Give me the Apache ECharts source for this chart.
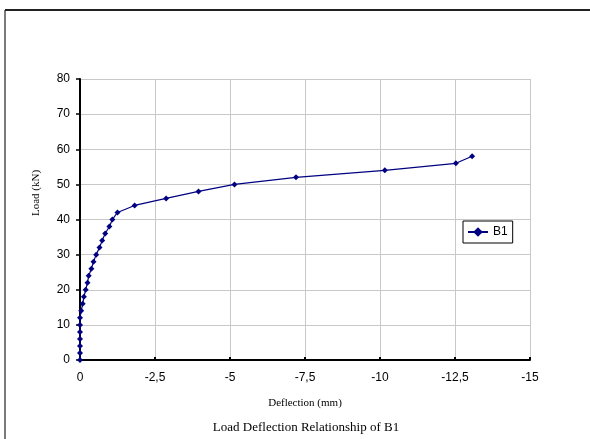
<!DOCTYPE html>
<html>
<head>
<meta charset="utf-8">
<script src="https://cdn.jsdelivr.net/npm/echarts@6/dist/echarts.min.js"></script>
<style>
html,body{margin:0;padding:0;background:#fff;}
#c{width:590px;height:439px;}
</style>
</head>
<body>
<div id="c"></div>
<script>
// Deflection (mm) and Load (kN) for beam B1
const deflection = [0, 0, 0, 0, 0, 0, 0, -0.04, -0.09, -0.13, -0.19, -0.25, -0.29, -0.38, -0.45, -0.54, -0.65, -0.74, -0.84, -0.98, -1.08, -1.25, -1.82, -2.87, -3.95, -5.15, -7.2, -10.16, -12.53, -13.07];
const load = [0, 2, 4, 6, 8, 10, 12, 14, 16, 18, 20, 22, 24, 26, 28, 30, 32, 34, 36, 38, 40, 42, 44, 46, 48, 50, 52, 54, 56, 58];
const seriesName = 'B1';
const xTitle = 'Deflection (mm)';
const yTitle = 'Load (kN)';
const chartTitle = 'Load Deflection Relationship of B1';

const chart = echarts.init(document.getElementById('c'), null, {renderer: 'canvas'});
const pts = deflection.map((d, i) => [d, load[i]]);
const sans = 'Arial, "Liberation Sans", sans-serif';
const serif = '"Times New Roman", "Liberation Serif", serif';

chart.setOption({
  animation: false,
  backgroundColor: '#fff',
  grid: {left: 80, top: 79, right: 60, bottom: 79, containLabel: false},
  legend: {
    data: [seriesName],
    left: 463, top: 221,
    orient: 'vertical',
    padding: [5, 5, 5, 4],
    itemWidth: 20, itemHeight: 12, itemGap: 0,
    borderColor: '#000', borderWidth: 1,
    backgroundColor: '#fff',
    textStyle: {fontFamily: sans, fontSize: 12, color: '#000'}
  },
  xAxis: {
    type: 'value',
    min: -15, max: 0, interval: 2.5,
    inverse: true,
    axisLine: {onZero: false, lineStyle: {color: '#000', width: 2}},
    axisTick: {show: true, inside: true, length: 3, lineStyle: {color: '#000', width: 2}},
    axisLabel: {
      margin: 12, fontFamily: sans, fontSize: 12, color: '#000',
      formatter: v => String(v).replace('.', ',')
    },
    splitLine: {show: true, lineStyle: {color: '#c8c8c8', width: 1}}
  },
  yAxis: {
    type: 'value',
    min: 0, max: 80, interval: 10,
    axisLine: {show: true, onZero: false, lineStyle: {color: '#000', width: 2}},
    axisTick: {show: true, inside: false, length: 4, lineStyle: {color: '#000', width: 1.5}},
    axisLabel: {margin: 10, fontFamily: sans, fontSize: 12, color: '#000'},
    splitLine: {show: true, lineStyle: {color: '#c8c8c8', width: 1}}
  },
  series: [{
    name: seriesName,
    type: 'line',
    data: pts,
    symbol: 'diamond',
    symbolSize: 6,
    showSymbol: true,
    lineStyle: {color: '#000080', width: 1.2},
    itemStyle: {color: '#000080'},
    z: 5
  }],
  graphic: [
    {type: 'line', shape: {x1: 5, y1: 10, x2: 595, y2: 10}, style: {stroke: '#222', lineWidth: 2}},
    {type: 'line', shape: {x1: 5, y1: 10, x2: 5, y2: 445}, style: {stroke: '#222', lineWidth: 1.2}},
    {type: 'text', x: 36, y: 193, rotation: Math.PI / 2,
     style: {text: yTitle, font: '11px ' + serif, fill: '#000', textAlign: 'center', textVerticalAlign: 'middle'}},
    {type: 'text', x: 305, y: 403,
     style: {text: xTitle, font: '11px ' + serif, fill: '#000', textAlign: 'center', textVerticalAlign: 'middle'}},
    {type: 'text', x: 306, y: 428,
     style: {text: chartTitle, font: '13px ' + serif, fill: '#000', textAlign: 'center', textVerticalAlign: 'middle'}}
  ]
});
</script>
</body>
</html>
